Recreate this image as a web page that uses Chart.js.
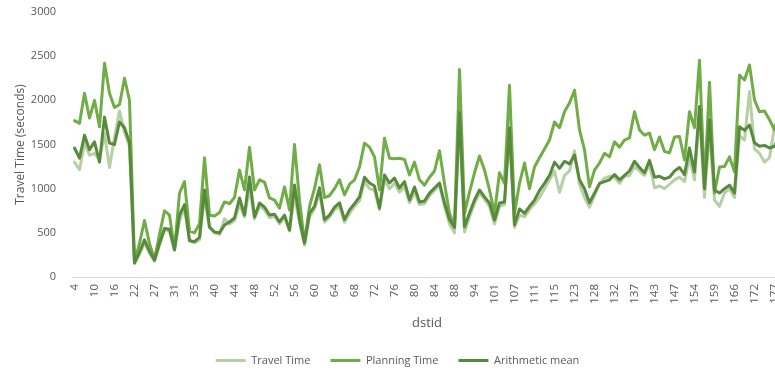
<!DOCTYPE html>
<html>
<head>
<meta charset="utf-8">
<script src="https://cdn.jsdelivr.net/npm/chart.js@4/dist/chart.umd.min.js"></script>
<style>
  html, body { margin: 0; padding: 0; background: #ffffff; overflow: hidden; }
  #wrap { position: absolute; left: 0; top: 0; width: 782px; height: 372px; }
</style>
</head>
<body>
<div id="wrap"><canvas id="chart"></canvas></div>
<script>
// Destination ids along the x axis
const dstids = [
  4,5,7,8, 10,11,13,14, 16,17,19,20, 22,23,25,26, 27,28,29,30, 31,32,33,34,
  35,37,38,39, 40,41,42,43, 44,45,46,47, 48,49,50,51, 52,53,54,55, 56,57,58,59,
  60,61,62,63, 64,65,66,67, 68,69,70,71, 72,73,74,75, 76,77,78,79, 80,81,82,83,
  84,85,86,87, 88,90,91,93, 94,96,98,99, 101,102,104,105, 107,108,109,110,
  111,112,113,114, 115,117,119,121, 123,125,126,127, 128,129,130,131,
  132,134,135,136, 137,139,140,142, 143,144,145,146, 147,149,151,152,
  154,155,157,158, 159,161,163,164, 166,168,169,170, 172,174,175,176, 177,178
];

// Ids that get a printed tick label
const tickIds = [4,10,16,22,27,31,35,40,44,48,52,56,60,64,68,72,76,80,84,88,94,101,107,111,115,123,128,132,137,143,147,154,159,166,172,177];

const travelTime = [
  1300,1215,1520,1380,1400,1330,1620,1240,1580,1880,1640,1480,
  150,260,380,270,180,360,530,520,300,640,780,420,390,420,
  900,560,500,480,660,600,640,820,680,1000,660,800,760,670,690,600,680,520,920,620,360,
  680,770,950,620,680,760,800,620,720,800,860,1080,1000,980,760,1100,1000,1060,960,1020,840,960,820,
  830,920,980,1040,800,600,500,1750,509,680,830,950,880,800,600,800,820,1620,560,700,680,760,830,
  900,1000,1100,1200,960,1150,1200,1430,1050,900,790,920,1050,1120,1140,1130,1060,1140,1150,1250,1200,1150,1280,1010,
  1030,1000,1050,1100,1130,1080,1350,1100,1850,900,1650,870,800,950,1000,900,1600,1550,2100,1450,1400,1300,1350,1700,1650
];

const planningTime = [
  1770,1740,2080,1800,2000,1700,2420,2080,1920,1950,2250,2000,
  170,380,640,380,200,480,750,700,310,950,1080,520,500,600,
  1350,700,690,730,850,830,900,1210,985,1470,985,1100,1075,895,870,780,1020,760,1500,870,385,
  800,1000,1270,900,920,1000,1100,930,1050,1100,1245,1515,1470,1360,985,1570,1345,1340,1345,1330,1155,1300,1100,
  1040,1130,1200,1430,1060,720,570,2350,720,960,1180,1370,1210,985,720,1180,1060,2170,720,1060,1290,1000,1245,
  1350,1450,1550,1755,1690,1870,1970,2115,1665,1440,1020,1210,1290,1400,1360,1530,1470,1550,1575,1870,1665,1605,1630,1440,
  1585,1420,1405,1585,1590,1325,1870,1690,2455,1020,2205,950,1245,1250,1360,1190,2285,2230,2400,2005,1870,1880,1780,1665,1900
];

const arithmeticMean = [
  1460,1345,1605,1440,1530,1300,1810,1515,1500,1755,1690,1520,
  160,280,420,290,190,380,550,540,310,700,820,410,400,450,
  985,566,509,500,589,623,668,894,702,1132,679,838,792,702,710,623,700,532,1041,650,385,
  720,800,1010,650,700,790,840,650,760,830,906,1130,1064,1030,781,1155,1064,1120,1008,1080,872,1019,850,
  860,950,1008,1064,838,650,560,1860,566,724,872,985,906,838,645,838,850,1690,590,770,720,800,870,
  980,1060,1150,1300,1230,1310,1280,1380,1100,1000,840,950,1060,1080,1100,1160,1100,1150,1200,1310,1240,1180,1320,1130,
  1140,1110,1130,1200,1240,1160,1460,1190,1930,1000,1780,985,950,1000,1040,950,1700,1660,1720,1520,1480,1490,1460,1480,1600
];

const yTicks = [0, 500, 1000, 1500, 2000, 2500, 3000];

const seriesNames = ['Travel Time', 'Planning Time', 'Arithmetic mean'];
const seriesColors = ['#b7cfa5', '#70ad47', '#578a3a'];

const FONT = "'Open Sans', 'Noto Sans', sans-serif";
const GREY = '#595959';

function lineSet(i, values, order) {
  return {
    label: seriesNames[i],
    data: values,
    borderColor: seriesColors[i],
    backgroundColor: seriesColors[i],
    borderWidth: 3,
    pointRadius: 0,
    pointHoverRadius: 0,
    tension: 0,
    borderJoinStyle: 'round',
    borderCapStyle: 'round',
    fill: false,
    order: order
  };
}

new Chart(document.getElementById('chart'), {
  type: 'line',
  data: {
    labels: dstids,
    datasets: [
      lineSet(0, travelTime, 3),
      lineSet(1, planningTime, 2),
      lineSet(2, arithmeticMean, 1)
    ]
  },
  options: {
    responsive: true,
    maintainAspectRatio: false,
    animation: false,
    events: [],
    layout: { padding: { left: 13, top: 12, right: 0, bottom: -4 } },
    plugins: {
      legend: {
        position: 'bottom',
        labels: {
          font: { family: FONT, size: 11 },
          color: GREY,
          boxWidth: 30,
          boxHeight: 3,
          padding: 20,
          generateLabels: (chart) => chart.data.datasets.map((ds, i) => ({
            text: ds.label,
            fillStyle: ds.borderColor,
            strokeStyle: ds.borderColor,
            lineWidth: 0,
            fontColor: GREY,
            hidden: false,
            datasetIndex: i
          }))
        }
      },
      tooltip: { enabled: false }
    },
    scales: {
      x: {
        type: 'category',
        offset: true,
        grid: { display: false, drawTicks: false },
        border: { display: true, color: '#d9d9d9', width: 1 },
        afterFit: (scale) => {
          scale.height = 58;
          scale.paddingLeft = 0;
          scale.paddingRight = 0;
        },
        ticks: {
          autoSkip: false,
          maxRotation: 90,
          minRotation: 90,
          padding: 7,
          color: GREY,
          font: { family: FONT, size: 11.5 },
          callback: function (value) {
            const id = this.getLabelForValue(value);
            return tickIds.includes(Number(id)) ? String(id) : '';
          }
        },
        title: {
          display: true,
          text: 'dstid',
          color: GREY,
          font: { family: FONT, size: 13 },
          padding: { top: 6, bottom: 4 }
        }
      },
      y: {
        min: 0,
        max: 3000,
        grid: { display: false },
        border: { display: false },
        afterBuildTicks: (scale) => { scale.ticks = yTicks.map(v => ({ value: v })); },
        afterFit: (scale) => {
          scale.width = 59;
          scale.paddingTop = 0;
          scale.paddingBottom = 0;
        },
        ticks: {
          padding: 8,
          color: GREY,
          font: { family: FONT, size: 11 },
          callback: (value) => String(value)
        },
        title: {
          display: true,
          text: 'Travel Time (seconds)',
          color: GREY,
          font: { family: FONT, size: 12 },
          padding: { top: 0, bottom: 4 }
        }
      }
    }
  }
});
</script>
</body>
</html>
